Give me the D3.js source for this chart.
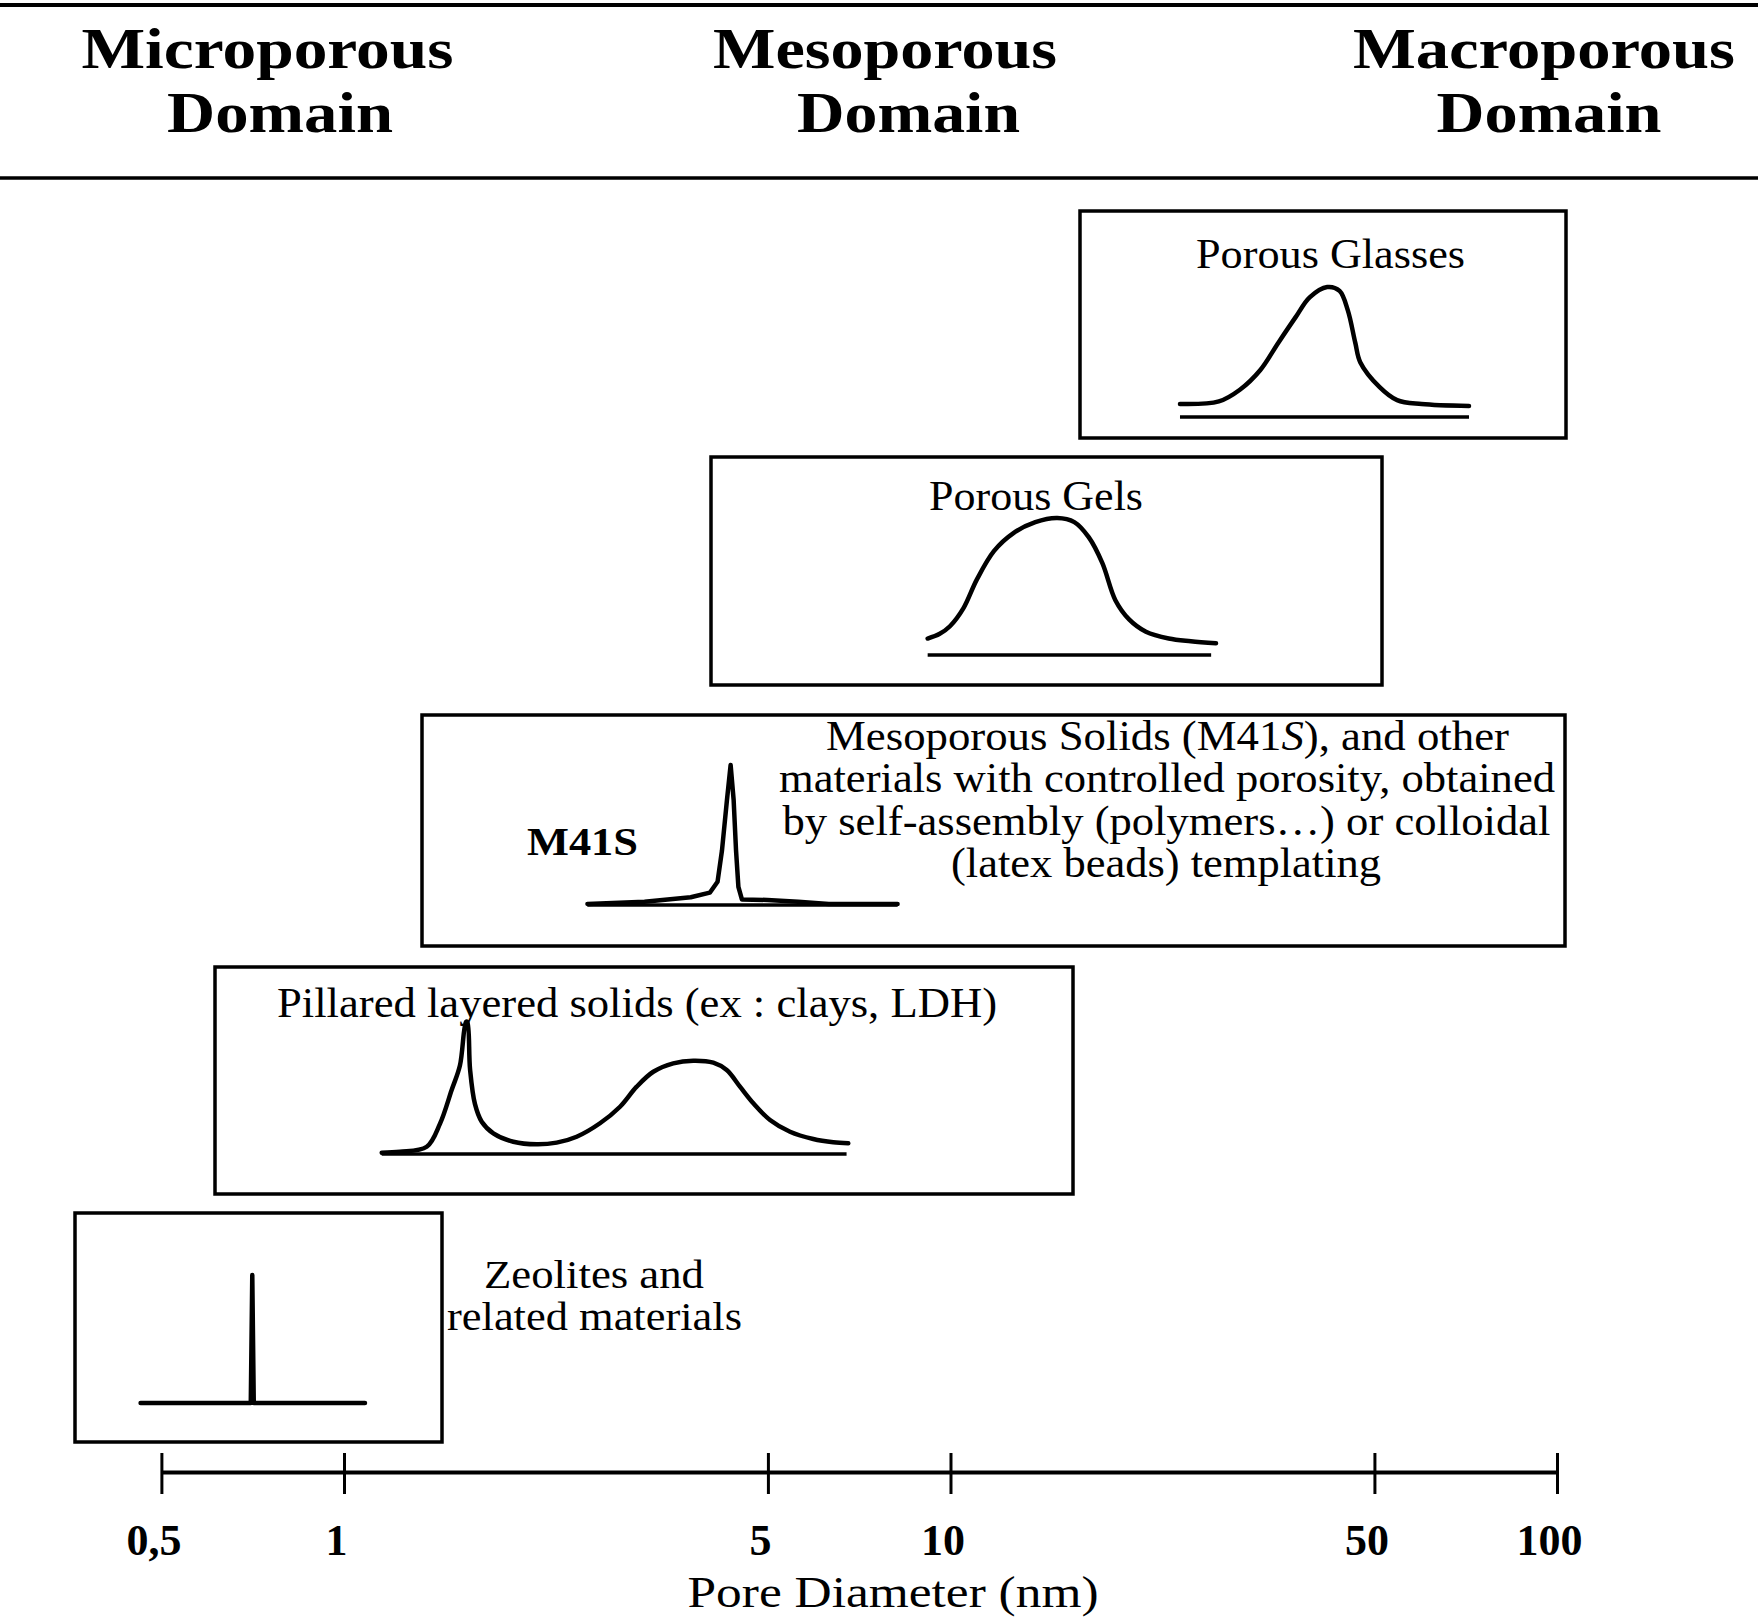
<!DOCTYPE html>
<html>
  <head>
    <meta charset="utf-8">
    <title>Pore size domains</title>
    <script src="https://d3js.org/d3.v7.min.js"></script>
    <style>
      body { margin: 0; background: #fff; }
      text { font-family: "Liberation Serif", "Times New Roman", serif; fill: #000; }
    </style>
  </head>
  <body>
  <svg width="1758" height="1620"></svg>
  <script>

    // domains across the top
    var domainNames = ["Microporous", "Mesoporous", "Macroporous"];

    // pore diameter axis (nm)
    var tickValues = [0.5, 1, 5, 10, 50, 100];
    var tickLabels = ["0,5", "1", "5", "10", "50", "100"];

    // schematic pore size distributions
    // pore = diameter in nm, signal = relative height (0-100)
    var glassesPore   = [23.9, 27.7, 30.0, 32.4, 34.7, 37.1, 39.1, 41.8, 43.8, 45.2, 46.5, 47.4, 51.0, 54.5, 59.8, 71.6];
    var glassesSignal = [10, 12, 21, 36, 57, 77, 92, 100, 97, 82, 57, 42, 23, 13, 10, 8.5];
    var glassesBase   = [23.9, 71.6];

    var gelsPore   = [9.17, 9.6, 9.98, 10.5, 11.05, 11.8, 12.7, 13.8, 15.0, 16.0, 16.9, 17.8, 18.7, 19.7, 21.0, 22.9, 24.9, 27.4];
    var gelsSignal = [12, 15.5, 21, 34, 55, 76, 89, 97, 100, 97, 86, 67, 40, 26, 17, 12, 10, 8.5];
    var gelsBase   = [9.17, 26.9];

    var m41sPore   = [2.52, 3.13, 3.73, 4.01, 4.13, 4.20, 4.28, 4.34, 4.39, 4.43, 4.47, 4.53, 4.99, 5.61, 6.30, 8.18];
    var m41sSignal = [0.7, 2.4, 5.5, 8.8, 16.6, 39, 75, 100, 75, 39, 13, 4, 3.6, 2.4, 0.7, 0.7];
    var m41sBase   = [2.52, 8.18];

    var pillaredPore   = [1.154, 1.237, 1.369, 1.440, 1.505, 1.553, 1.589, 1.597, 1.614, 1.644, 1.687, 1.763, 1.902, 2.078, 2.242, 2.419,
                          2.643, 2.852, 3.038, 3.236, 3.491, 3.766, 4.064, 4.276, 4.497, 4.731, 5.040, 5.438, 5.939, 6.409, 6.784];
    var pillaredSignal = [1, 1.7, 5.5, 23, 48.5, 67, 100, 100, 64, 38, 24.5, 15.7, 9.3, 7.3, 8.6, 13.1,
                          23.3, 35.8, 51, 62.3, 68.7, 70.7, 69.2, 63.6, 51, 38.4, 25.8, 16.9, 11.4, 8.9, 8.1];
    var pillaredBase   = [1.154, 6.74];

    var zeolitePore   = [0.462, 0.702, 0.706, 0.710, 1.083];
    var zeoliteSignal = [0, 0, 100, 0, 0];
    var zeoliteBase   = [0.462, 1.083];

    var svg = d3.select("svg");

    // log scale for the pore diameter
    var x = d3.scaleLog().domain([0.5, 100]).range([161.4, 1557]);

    // header band
    svg.append("line").attr("x1", 0).attr("x2", 1758).attr("y1", 5).attr("y2", 5)
       .attr("stroke", "#000").attr("stroke-width", 4);
    svg.append("line").attr("x1", 0).attr("x2", 1758).attr("y1", 178).attr("y2", 178)
       .attr("stroke", "#000").attr("stroke-width", 3.5);

    function label(txt, cx, y, size, weight, len) {
      var t = svg.append("text")
        .attr("x", cx).attr("y", y)
        .attr("text-anchor", "middle")
        .attr("font-size", size)
        .attr("font-weight", weight)
        .text(txt);
      if (len) t.attr("textLength", len).attr("lengthAdjust", "spacingAndGlyphs");
      return t;
    }

    var headX = [267.5, 885, 1544];
    var headLen = [372, 344, 382];
    var domLineX = [280, 908.5, 1549];
    var domLineLen = [226, 223, 225];
    domainNames.forEach(function(d, i) {
      label(d, headX[i], 68, 56, "bold", headLen[i]);
      label("Domain", domLineX[i], 132, 56, "bold", domLineLen[i]);
    });

    // one panel per family of materials
    var panels = [
      { pore: glassesPore, signal: glassesSignal, base: glassesBase, box: [1080, 211, 486, 227], baseY: 417, h: 130, curve: d3.curveCatmullRom },
      { pore: gelsPore, signal: gelsSignal, base: gelsBase, box: [711, 457, 671, 228], baseY: 655, h: 137, curve: d3.curveCatmullRom },
      { pore: m41sPore, signal: m41sSignal, base: m41sBase, box: [422, 715, 1143, 231], baseY: 905, h: 140, curve: d3.curveLinear },
      { pore: pillaredPore, signal: pillaredSignal, base: pillaredBase, box: [215, 967, 858, 227], baseY: 1154, h: 132, curve: d3.curveCatmullRom },
      { pore: zeolitePore, signal: zeoliteSignal, base: zeoliteBase, box: [75, 1213, 367, 229], baseY: 1403, h: 128, curve: d3.curveLinear }
    ];

    panels.forEach(function(p) {
      var y = d3.scaleLinear().domain([0, 100]).range([p.baseY, p.baseY - p.h]);

      svg.append("rect")
        .attr("x", p.box[0]).attr("y", p.box[1])
        .attr("width", p.box[2]).attr("height", p.box[3])
        .attr("fill", "none").attr("stroke", "#000").attr("stroke-width", 3.5);

      svg.append("line")
        .attr("x1", x(p.base[0])).attr("x2", x(p.base[1]))
        .attr("y1", y(0)).attr("y2", y(0))
        .attr("stroke", "#000").attr("stroke-width", 3.5);

      var pts = p.pore.map(function(d, i) { return [d, p.signal[i]]; });
      var line = d3.line()
        .x(function(d) { return x(d[0]); })
        .y(function(d) { return y(d[1]); })
        .curve(p.curve);
      svg.append("path")
        .attr("d", line(pts))
        .attr("fill", "none").attr("stroke", "#000")
        .attr("stroke-width", 4.5).attr("stroke-linejoin", "round").attr("stroke-linecap", "round");
    });

    // box texts
    label("Porous Glasses", 1330.5, 268, 42, "normal", 269);
    label("Porous Gels", 1036, 510, 42, "normal", 214);

    var m1 = label("", 1167.5, 750, 42, "normal", 683);
    m1.append("tspan").text("Mesoporous Solids (M41");
    m1.append("tspan").attr("font-style", "italic").text("S");
    m1.append("tspan").text("), and other");
    label("materials with controlled porosity, obtained", 1167, 792, 42, "normal", 776);
    label("by self-assembly (polymers\u2026) or colloidal", 1166.5, 835, 42, "normal", 768);
    label("(latex beads) templating", 1166, 877, 42, "normal", 430);
    label("M41S", 582.5, 855, 40, "bold", 111);

    label("Pillared layered solids (ex : clays, LDH)", 637, 1017, 42, "normal", 720);
    label("Zeolites and", 594, 1288, 41, "normal", 220);
    label("related materials", 594.5, 1330, 41, "normal", 295);

    // pore diameter axis
    var xAxis = d3.axisBottom(x)
      .tickValues(tickValues)
      .tickFormat(function(d, i) { return tickLabels[i]; })
      .tickSize(22)
      .tickSizeOuter(0);

    var ax = svg.append("g")
      .attr("transform", "translate(0,1472)")
      .call(xAxis);
    ax.select(".domain").attr("stroke-width", 4);
    ax.selectAll(".tick line").attr("y1", -19).attr("stroke-width", 3);
    ax.selectAll(".tick text")
      .attr("y", 83).attr("dy", null).attr("dx", -8)
      .attr("font-size", 44).attr("font-weight", "bold");

    label("Pore Diameter (nm)", 893, 1607, 44, "normal", 411);

  </script>
  </body>
</html>
